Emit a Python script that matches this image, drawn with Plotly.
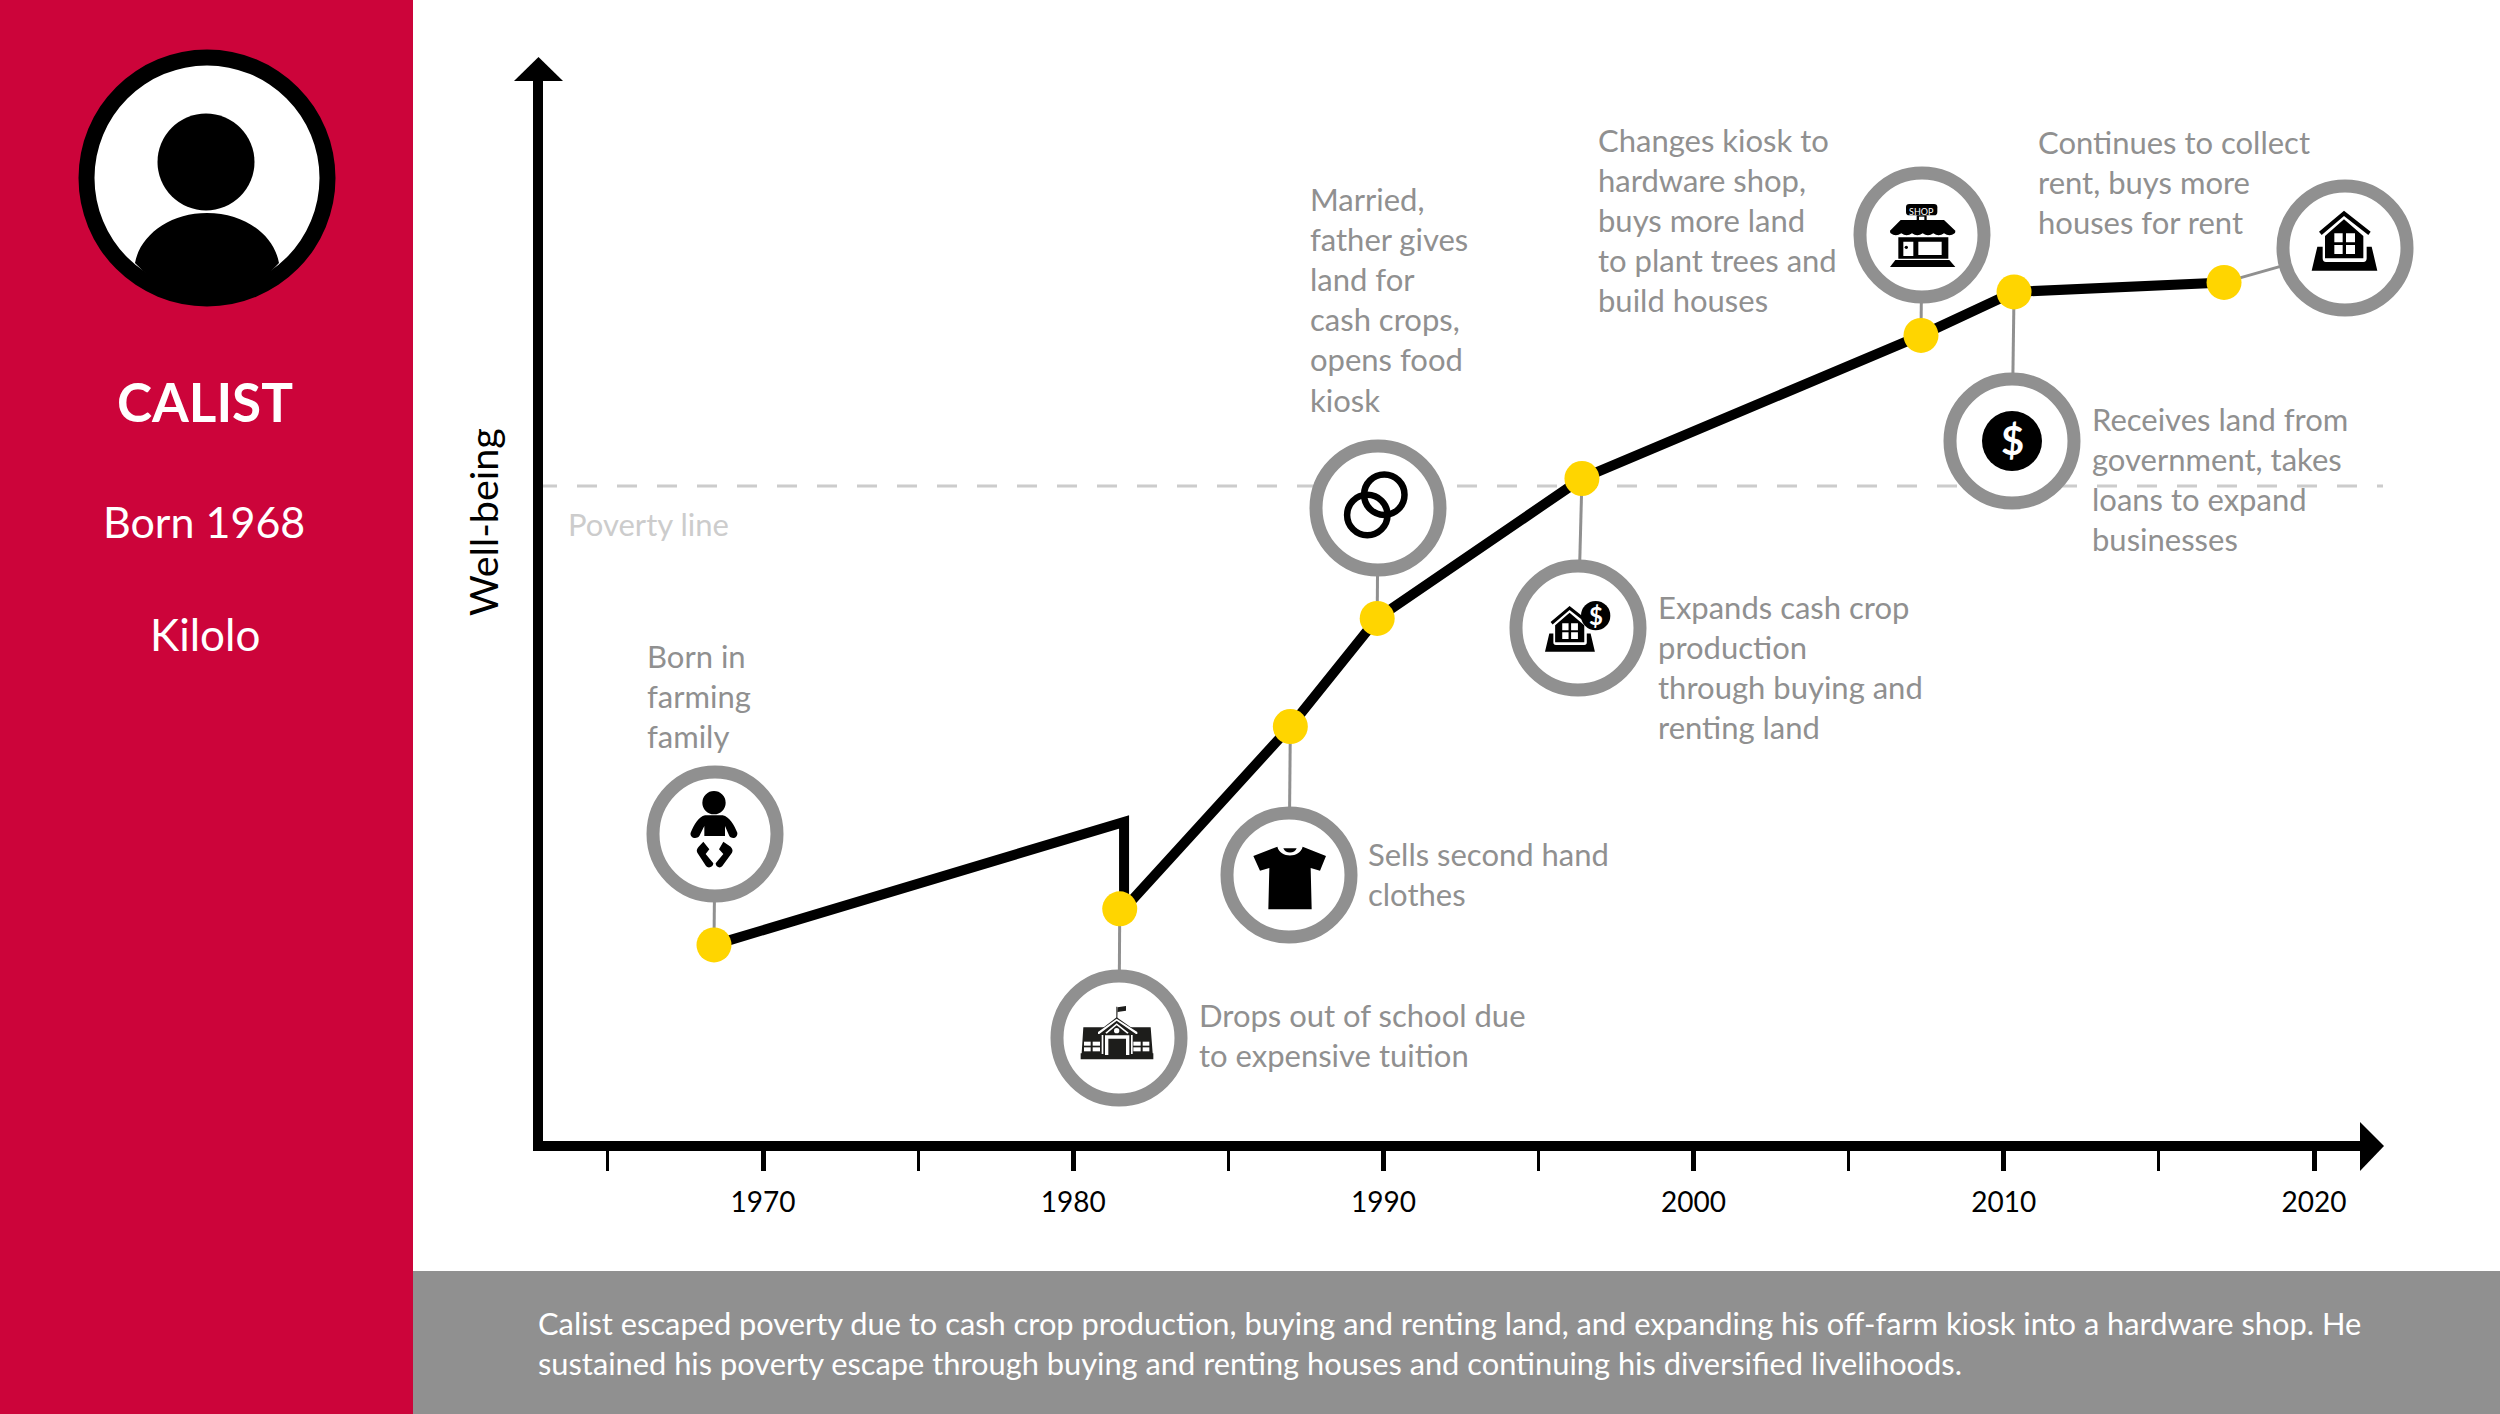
import re
import plotly.graph_objects as go

# ---------- data ----------
line_years = [1968.42, 1981.64, 1981.64, 1987.0, 1989.8, 1996.4, 2007.33, 2010.33, 2017.1]
line_values = [18.5, 30.1, 21.9, 39.1, 49.3, 62.5, 76.0, 80.1, 81.0]
event_years = [1968.42, 1981.5, 1987.0, 1989.8, 1996.4, 2007.33, 2010.33, 2017.1]
event_values = [18.5, 21.9, 39.1, 49.3, 62.5, 76.0, 80.1, 81.0]
poverty_value = 61.8
major_ticks = [1970, 1980, 1990, 2000, 2010, 2020]
minor_ticks = [1965, 1975, 1985, 1995, 2005, 2015]
event_texts = [
    ["Born in", "farming", "family"],
    ["Drops out of school due", "to expensive tuition"],
    ["Sells second hand", "clothes"],
    ["Married,", "father gives", "land for", "cash crops,", "opens food", "kiosk"],
    ["Expands cash crop", "production", "through buying and", "renting land"],
    ["Changes kiosk to", "hardware shop,", "buys more land", "to plant trees and", "build houses"],
    ["Receives land from", "government, takes", "loans to expand", "businesses"],
    ["Continues to collect", "rent, buys more", "houses for rent"],
]
summary_lines = [
    "Calist escaped poverty due to cash crop production, buying and renting land, and expanding his off-farm kiosk into a hardware shop. He",
    "sustained his poverty escape through buying and renting houses and continuing his diversified livelihoods.",
]

# ---------- layout constants ----------
W, H = 2500, 1414
FONT = "Lato"
RED, GREY, GOLD, PALE = "#CC043A", "#909090", "#FFD500", "#CCCCCC"
PLOT_L, PLOT_R, PLOT_T, PLOT_B = 543, 2376, 81, 1141
X0 = 1970 + (PLOT_L - 763) / 31.02
X1 = 1970 + (PLOT_R - 763) / 31.02
circles = [(715, 834), (1119, 1038), (1289, 875), (1378, 508),
           (1578, 628), (1922, 235), (2012, 441), (2345, 248)]
text_pos = [(647, 656), (1199, 1015), (1368, 854), (1310, 199),
            (1658, 607), (1598, 140), (2092, 419), (2038, 141.5)]
LINE_STEP = 40.1


def px(x):
    return x / W


def py(y):
    return 1 - y / H


def year_px(year):
    return PLOT_L + (year - X0) / (X1 - X0) * (PLOT_R - PLOT_L)


def value_px(v):
    return PLOT_B - v / 100 * (PLOT_B - PLOT_T)


shapes = []


def rect(x0, y0, x1, y1, color, layer="below"):
    shapes.append(dict(type="rect", xref="paper", yref="paper", x0=px(x0), x1=px(x1),
                       y0=py(y0), y1=py(y1), fillcolor=color, line_width=0, layer=layer))


def ellipse(cx, cy, r, fill, line_color=None, line_w=0, layer="above"):
    shapes.append(dict(type="circle", xref="paper", yref="paper",
                       x0=px(cx - r), x1=px(cx + r), y0=py(cy + r), y1=py(cy - r),
                       fillcolor=fill,
                       line=dict(color=line_color or "rgba(0,0,0,0)", width=line_w),
                       layer=layer))


def icon(ox, oy, d, s=1 / 3, color="#000000", layer="above"):
    def conv(m):
        x = ox + float(m.group(1)) * s
        y = oy + float(m.group(2)) * s
        return f"{px(x):.6f},{py(y):.6f}"
    path = re.sub(r"(-?\d+\.?\d*),(-?\d+\.?\d*)", conv, d)
    shapes.append(dict(type="path", xref="paper", yref="paper", path=path,
                       fillcolor=color, line_width=0, layer=layer, fillrule="evenodd"))


def box(x0, y0, x1, y1):
    return f"M{x0},{y0} L{x1},{y0} L{x1},{y1} L{x0},{y1} Z "


# ---------- panels ----------
rect(0, 0, 413, H, RED)
rect(413, 1271, W, H, GREY)

# ---------- poverty line ----------
shapes.append(dict(type="line", xref="paper", yref="y", x0=px(537), x1=px(2383),
                   y0=poverty_value, y1=poverty_value,
                   line=dict(color=PALE, width=3, dash="20px,20px"), layer="below"))

# ---------- connectors ----------
for yr, val, (cx, cy) in zip(event_years, event_values, circles):
    shapes.append(dict(type="line", xref="paper", yref="paper",
                       x0=px(year_px(yr)), y0=py(value_px(val)), x1=px(cx), y1=py(cy),
                       line=dict(color=GREY, width=3), layer="below"))

# ---------- event circles ----------
for cx, cy in circles:
    ellipse(cx, cy, 62, "#FFFFFF", GREY, 13)

# ---------- axis arrows ----------
icon(0, 0, "M514,81 L538.5,57 L563,81 Z", s=1)
icon(0, 0, "M2360,1122 L2384,1146 L2360,1171 Z", s=1)

# ---------- avatar ----------
ellipse(207, 178, 128.5, "#000000")
ellipse(207, 178, 112.5, "#FFFFFF")
ellipse(206, 162, 48.5, "#000000")
icon(0, 0, "M135,263 C140,235 170,213 207,213 C245,213 274,235 279,263 "
           "Q245,300 207,298 Q170,300 135,263 Z", s=1)

# ---------- baby ----------
BX, BY = 670, 780
ellipse(BX + 132 / 3, BY + 68 / 3, 35 / 3, "#000000")
icon(BX, BY, "M105,106 L158,106 C178,110 192,135 202,158 C204,172 188,180 178,168 L165,138 "
             "L165,168 L103,168 L103,138 L88,168 C78,180 58,172 62,158 C72,135 86,110 105,106 Z")
icon(BX, BY, "M100,185 L118,208 L107,222 L130,250 C130,262 114,266 108,258 L82,218 C78,210 82,205 86,200 Z")
icon(BX, BY, "M160,185 L147,208 L160,222 L137,250 C137,262 151,266 157,258 L186,218 C190,210 186,205 182,200 Z")

# ---------- school ----------
SX, SY = 1070, 990
INK = "#1D1D1B"
icon(SX, SY, "M40,112 L242,112 L248,190 L250,190 L250,208 L32,208 L32,190 L35,190 Z", color=INK)
icon(SX, SY, "M80,128 L140,82 L206,128 L206,140 L80,140 Z", color=INK)
icon(SX, SY, "M139,50 L142,50 L142,66 L168,62 L168,48 L143,52 L142,86 L139,86 Z", color=INK)
for a, b, c, d in [(42, 155, 62, 167), (68, 155, 90, 167), (42, 172, 62, 184), (68, 172, 90, 184),
                   (190, 155, 212, 167), (218, 155, 238, 167), (190, 172, 212, 184), (218, 172, 238, 184),
                   (95, 135, 100, 192), (183, 135, 188, 192)]:
    icon(SX, SY, box(a, b, c, d), color="#FFFFFF")
icon(SX, SY, "M84,126 L140,86 L202,126 L202,132 L198,132 L140,92 L88,132 L84,132 Z", color="#FFFFFF")
icon(SX, SY, "M106,128 L140,100 L176,128 L172,131 L140,106 L110,131 Z", color="#FFFFFF")
icon(SX, SY, "M105,136 L178,136 L178,195 L168,195 L168,146 L115,146 L115,195 L105,195 Z", color="#FFFFFF")
ellipse(SX + 140 / 3, SY + 122 / 3, 8 / 3, "#FFFFFF")

# ---------- shirt ----------
TX, TY = 1240, 830
icon(TX, TY, "M40,78 L112,50 C120,85 180,85 188,50 L258,78 L240,122 L212,114 L215,238 L85,238 "
             "L88,114 L60,122 Z")
icon(TX, TY, "M130,55 L170,55 C165,72 135,72 130,55 Z")

# ---------- shop ----------
PX, PY = 1880, 190
icon(PX, PY, "M88,42 L162,42 Q172,42 172,52 L172,66 Q172,76 162,76 L88,76 Q78,76 78,66 L78,52 Q78,42 88,42 Z")
icon(PX, PY, box(110, 76, 140, 92))
icon(PX, PY, box(117, 80, 133, 92), color="#FFFFFF")
icon(PX, PY, "M62,90 L192,90 L226,122 Q226,128 224,130 Q209,142 192,130 Q176,142 160,130 Q144,142 128,130 "
             "Q112,142 96,130 Q80,142 64,130 Q47,142 32,130 Q30,128 30,122 Z")
icon(PX, PY, box(55, 142, 205, 206) + box(70, 155, 100, 198) + box(115, 155, 185, 195))
ellipse(PX + 79 / 3, PY + 172 / 3, 5 / 3, "#000000")
icon(PX, PY, "M46,210 L208,210 L226,231 L30,231 Z")

# ---------- houses ----------
HOUSE_ROOF = [(132, 32), (212, 95), (205, 105), (132, 48), (65, 105), (57, 95)]
HOUSE_BODY = [(132, 58), (75, 108), (75, 175), (190, 175), (190, 108)]
HOUSE_WIN = [(103, 100, 128, 127), (138, 100, 165, 127), (103, 135, 128, 162), (138, 135, 165, 162)]
HOUSE_BASE = ("M52,140 L68,140 L68,175 Q68,186 78,186 L190,186 Q200,186 200,175 L200,140 L215,140 "
              "L232,212 L35,212 Z")


def poly(pts):
    return "M" + " L".join(f"{x},{y}" for x, y in pts) + " Z "


def draw_house(ox, oy, s):
    icon(ox, oy, poly(HOUSE_ROOF), s=s)
    icon(ox, oy, poly(HOUSE_BODY) + "".join(box(*b) for b in HOUSE_WIN), s=s)
    icon(ox, oy, HOUSE_BASE, s=s)


draw_house(2300, 200, 1 / 3)
# second house: same icon scaled and shifted, with a coin beside it
draw_house(1530 + (45 - 35 * 0.76) / 3, 590 + (185 - 212 * 0.76) / 3, 0.76 / 3)
ellipse(1530 + 197 / 3, 590 + 77 / 3, 44 / 3, "#000000")

# ---------- rings and coin ----------
for cx, cy in [(1367.3, 515), (1384.3, 494.7)]:
    ellipse(cx, cy, 20.2, "rgba(0,0,0,0)", "#000000", 6.5)
ellipse(2012, 441, 30, "#000000")

# ---------- text ----------
annotations = []


def text(x, y, s, size, color, anchor="left", bold=False, angle=0):
    annotations.append(dict(xref="paper", yref="paper", x=px(x), y=py(y), text=f"<b>{s}</b>" if bold else s,
                            showarrow=False, xanchor=anchor, yanchor="middle", textangle=angle,
                            font=dict(family=FONT, size=size, color=color), borderpad=0, borderwidth=0))


for (x, y), lines in zip(text_pos, event_texts):
    for i, line in enumerate(lines):
        text(x, y + i * LINE_STEP, line, 31, GREY)
text(568, 524, "Poverty line", 31, PALE)
text(482, 522, "Well-being", 39.5, "#000000", anchor="center", angle=-90)
text(205, 402, "CALIST", 53, "#FFFFFF", anchor="center", bold=True)
text(204, 521, "Born 1968", 43, "#FFFFFF", anchor="center")
text(205, 634, "Kilolo", 44, "#FFFFFF", anchor="center")
for i, line in enumerate(summary_lines):
    text(538, 1323 + i * 40, line, 30.8, "#FFFFFF")
text(2012, 440, "<b>$</b>", 40, "#FFFFFF", anchor="center")
text(1530 + 197 / 3, 590 + 77 / 3, "<b>$</b>", 24, "#FFFFFF", anchor="center")
text(PX + 125 / 3, PY + 59 / 3 + 2, "SHOP", 9, "#FFFFFF", anchor="center")

# ---------- figure ----------
fig = go.Figure()
fig.add_trace(go.Scatter(x=line_years, y=line_values, mode="lines",
                         line=dict(color="#000000", width=10), hoverinfo="skip"))
fig.add_trace(go.Scatter(x=event_years, y=event_values, mode="markers",
                         marker=dict(color=GOLD, size=35, line_width=0), hoverinfo="skip"))
fig.update_layout(
    width=W, height=H, autosize=False, showlegend=False,
    margin=dict(l=0, r=0, t=0, b=0, pad=0),
    paper_bgcolor="#FFFFFF", plot_bgcolor="rgba(0,0,0,0)",
    shapes=shapes, annotations=annotations,
    xaxis=dict(domain=[PLOT_L / W, PLOT_R / W], range=[X0, X1], showgrid=False, zeroline=False,
               showline=True, linecolor="#000000", linewidth=10,
               ticks="outside", ticklen=20, tickwidth=5, tickcolor="#000000",
               tickvals=major_ticks, ticktext=[str(v) for v in major_ticks],
               tickfont=dict(family=FONT, size=28, color="#000000"), ticklabelstandoff=7,
               minor=dict(tickvals=minor_ticks, ticks="outside", ticklen=20, tickwidth=2.5,
                          tickcolor="#000000")),
    yaxis=dict(domain=[1 - PLOT_B / H, 1 - PLOT_T / H], range=[0, 100], showgrid=False, zeroline=False,
               showline=True, linecolor="#000000", linewidth=10, ticks="", showticklabels=False),
)
fig.write_html("out.html", config=dict(displayModeBar=False),
               post_script="document.body.style.margin='0';")
